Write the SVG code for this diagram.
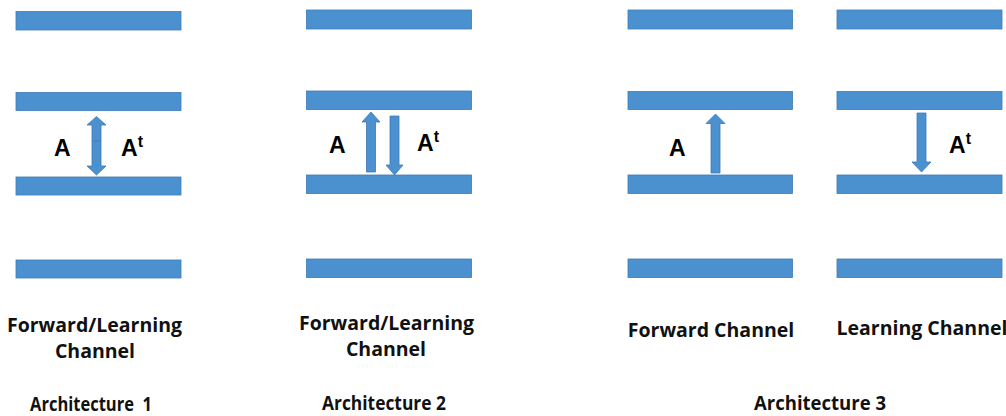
<svg xmlns="http://www.w3.org/2000/svg" width="1006" height="416" viewBox="0 0 1006 416">
<style>
.bar{fill:#4b91d0;stroke:#3d7ab6;stroke-width:0.8}
.arr{fill:#4b91d0;stroke:#3d7ab6;stroke-width:0.8;stroke-linejoin:miter}
.lbl{font-family:"Liberation Sans",Arial,sans-serif;font-weight:bold;font-size:23px;fill:#000}
.sup{font-size:16px}
.cap{font-family:"Open Sans","Liberation Sans",sans-serif;font-weight:bold;font-size:19.5px;fill:#111;text-anchor:middle}
.ttl{font-size:19px}
</style>
<rect width="1006" height="416" fill="#fff"/>
<g id="arch1">
<rect class="bar" x="16" y="11.5" width="165" height="18.5"/>
<rect class="bar" x="16" y="92.5" width="165" height="18"/>
<rect class="bar" x="16" y="177" width="165" height="18"/>
<rect class="bar" x="16" y="260" width="165" height="18"/>
<text class="lbl" x="54" y="156">A</text>
<text class="lbl" x="121" y="156">A<tspan class="sup" dy="-9">t</tspan></text>
<text class="cap" x="94.5" y="332">Forward/Learning</text>
<text class="cap" x="95" y="358">Channel</text>
<text class="cap ttl" x="91" y="411" xml:space="preserve" textLength="122" lengthAdjust="spacingAndGlyphs">Architecture  1</text>
</g>
<g id="arch2">
<rect class="bar" x="306.5" y="10" width="165" height="19"/>
<rect class="bar" x="306.5" y="91" width="165" height="18.5"/>
<rect class="bar" x="306.5" y="175" width="165" height="18.5"/>
<rect class="bar" x="306.5" y="259" width="165" height="18.5"/>
<text class="lbl" x="329" y="153">A</text>
<text class="lbl" x="417" y="151">A<tspan class="sup" dy="-9">t</tspan></text>
<text class="cap" x="386.5" y="330">Forward/Learning</text>
<text class="cap" x="386" y="356">Channel</text>
<text class="cap ttl" x="384" y="410" textLength="124" lengthAdjust="spacingAndGlyphs">Architecture 2</text>
</g>
<g id="arch3-forward">
<rect class="bar" x="628" y="10" width="164.5" height="19"/>
<rect class="bar" x="628" y="91.5" width="164.5" height="18"/>
<rect class="bar" x="628" y="175" width="164.5" height="18.5"/>
<rect class="bar" x="628" y="259" width="164.5" height="18.5"/>
<text class="lbl" x="669" y="156">A</text>
<text class="cap" x="711" y="337">Forward Channel</text>
</g>
<g id="arch3-learning">
<rect class="bar" x="837" y="10" width="165" height="19"/>
<rect class="bar" x="837" y="91.5" width="165" height="18"/>
<rect class="bar" x="837" y="175" width="165" height="18.5"/>
<rect class="bar" x="837" y="259" width="165" height="18.5"/>
<text class="lbl" x="949" y="153">A<tspan class="sup" dy="-9">t</tspan></text>
<text class="cap" x="922" y="335">Learning Channel</text>
</g>
<g id="arch3-title">
<text class="cap ttl" x="820" y="410" textLength="132" lengthAdjust="spacingAndGlyphs">Architecture 3</text>
</g>
<g id="connectors">
<polygon class="arr" points="96.5,116.5 106,125 101,125 101,166 106,166 96.5,175 87,166 92,166 92,125 87,125"/>
<line x1="92" y1="141" x2="101" y2="141" stroke="#3d7ab6" stroke-width="0.8"/>
<polygon class="arr" points="371,112 380,122 375.5,122 375.5,172 366.5,172 366.5,122 362,122"/>
<polygon class="arr" points="394.5,175 403,165 399,165 399,116 390,116 390,165 386,165"/>
<polygon class="arr" points="715.5,114 725,123.5 720,123.5 720,173 711,173 711,123.5 706,123.5"/>
<polygon class="arr" points="921.5,172 931,162 926,162 926,113 917,113 917,162 912,162"/>
</g>
</svg>
